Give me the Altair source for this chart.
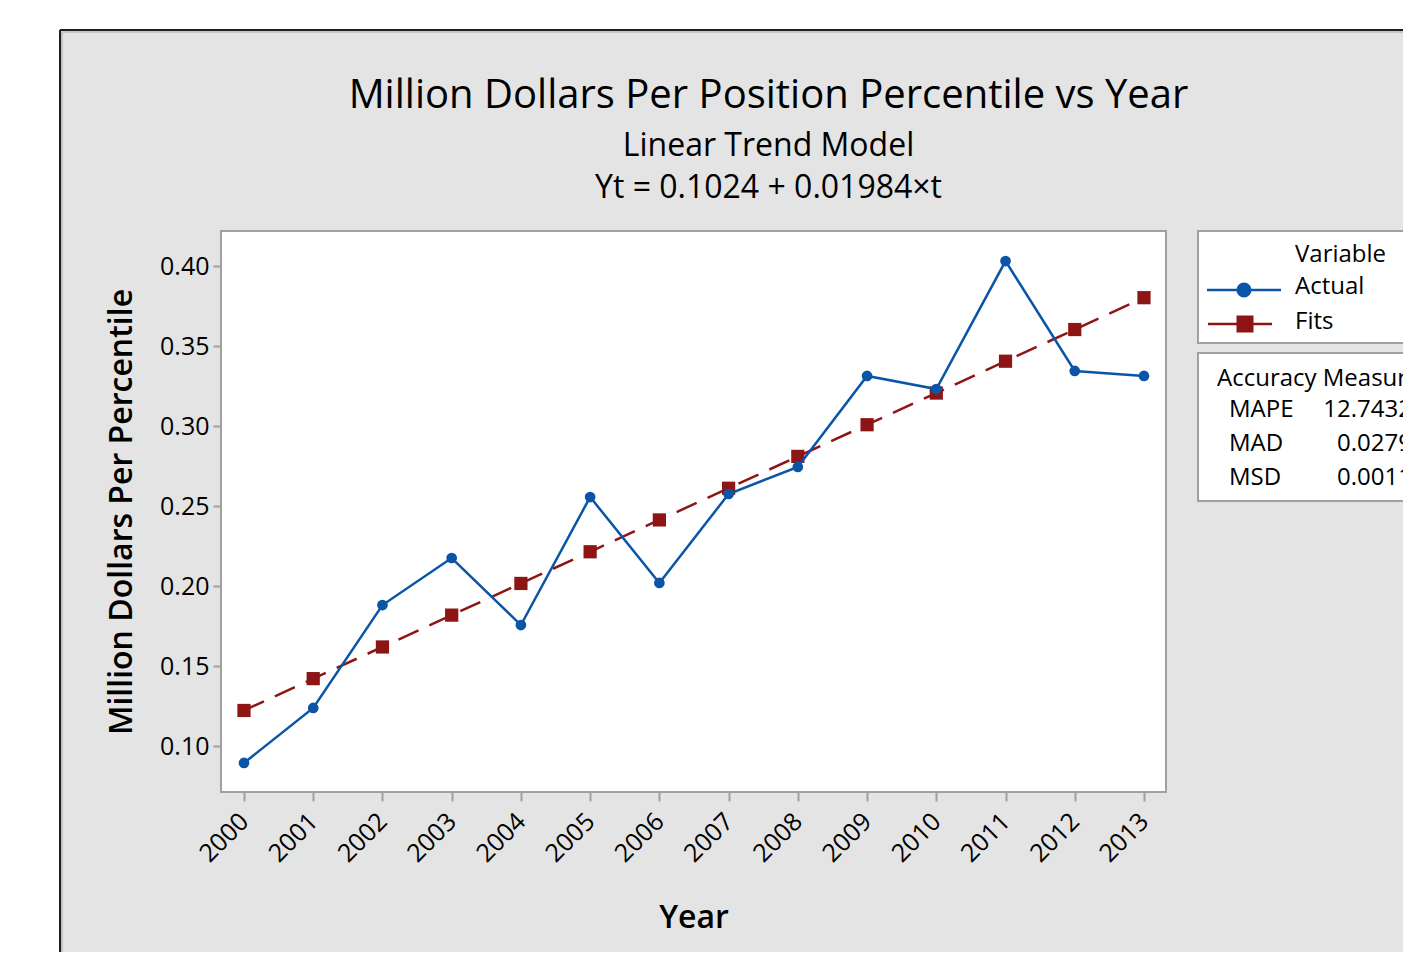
import altair as alt
import pandas as pd

# ---------------- data ----------------
years = [2000, 2001, 2002, 2003, 2004, 2005, 2006, 2007, 2008, 2009, 2010, 2011, 2012, 2013]
actual = [0.0894, 0.1238, 0.1881, 0.2175, 0.1756, 0.2556, 0.2019,
          0.2575, 0.2744, 0.3313, 0.3231, 0.4031, 0.3344, 0.3313]
fits = [0.1222, 0.1421, 0.1619, 0.1818, 0.2016, 0.2214, 0.2413,
        0.2611, 0.2810, 0.3008, 0.3206, 0.3405, 0.3603, 0.3802]
series = ["Actual", "Fits"]
measure_names = ["MAPE", "MAD", "MSD"]
measure_values = ["12.7432", "0.0279", "0.0011"]
y_ticks = [0.10, 0.15, 0.20, 0.25, 0.30, 0.35, 0.40]

title_text = "Million Dollars Per Position Percentile vs Year"
subtitle_lines = ["Linear Trend Model", "Yt = 0.1024 + 0.01984×t"]

# ---------------- styling ----------------
FONT = "Open Sans"
BLUE = "#0a55a8"
RED = "#8e1515"
PANEL = "#e4e4e4"
FRAME = "#a0a0a0"
W, H = 945, 561

df_actual = pd.DataFrame({"Year": years, "Value": actual})
df_fits = pd.DataFrame({"Year": years, "Value": fits})
one = pd.DataFrame({"k": [0]})

xscale = alt.Scale(domain=[1999.668, 2013.318], nice=False, zero=False)
yscale = alt.Scale(domain=[0.07125, 0.42188], nice=False, zero=False)

xaxis = alt.Axis(values=years, format="d", title="Year", labelAngle=-45,
                 labelAlign="right", labelBaseline="middle", labelPadding=16,
                 tickSize=9, titlePadding=36)
yaxis = alt.Axis(values=y_ticks, format=".2f", title="Million Dollars Per Percentile",
                 labelPadding=4, tickSize=8, titlePadding=21)

X = alt.X("Year:Q", scale=xscale, axis=xaxis)
Y = alt.Y("Value:Q", scale=yscale, axis=yaxis)

fits_line = alt.Chart(df_fits).mark_line(color=RED, strokeWidth=2.5, strokeDash=[22, 12]).encode(x=X, y=Y)
fits_pts = alt.Chart(df_fits).mark_square(color=RED, size=175, opacity=1).encode(x=X, y=Y)
act_line = alt.Chart(df_actual).mark_line(color=BLUE, strokeWidth=2.5).encode(x=X, y=Y)
act_pts = alt.Chart(df_actual).mark_circle(color=BLUE, size=115, opacity=1).encode(x=X, y=Y)

# ---------------- outer panel (white margin outside the grey panel) ----------------
mask_left = alt.Chart(one).mark_rect(color="white").encode(
    x=alt.value(-230), x2=alt.value(-161), y=alt.value(-230), y2=alt.value(H + 200))
mask_top = alt.Chart(one).mark_rect(color="white").encode(
    x=alt.value(-230), x2=alt.value(W + 500), y=alt.value(-230), y2=alt.value(-201))
edge_left = alt.Chart(one).mark_rule(color="#1e1e1e", strokeWidth=2).encode(
    x=alt.value(-161), y=alt.value(-201), y2=alt.value(H + 200))
edge_top = alt.Chart(one).mark_rule(color="#1e1e1e", strokeWidth=2).encode(
    x=alt.value(-161), x2=alt.value(W + 500), y=alt.value(-201))
inner_left = alt.Chart(one).mark_rule(color="#c4c4c4", strokeWidth=2).encode(
    x=alt.value(-159), y=alt.value(-199), y2=alt.value(H + 200))
inner_top = alt.Chart(one).mark_rule(color="#c4c4c4", strokeWidth=2).encode(
    x=alt.value(-159), x2=alt.value(W + 500), y=alt.value(-199))

# ---------------- legend boxes ----------------
box1 = alt.Chart(one).mark_rect(fill="white", stroke=FRAME, strokeWidth=2).encode(
    x=alt.value(977), x2=alt.value(W + 500), y=alt.value(0), y2=alt.value(112))
box2 = alt.Chart(one).mark_rect(fill="white", stroke=FRAME, strokeWidth=2).encode(
    x=alt.value(977), x2=alt.value(W + 500), y=alt.value(122), y2=alt.value(270))

def txt(s, x, y, align="left"):
    return alt.Chart(one).mark_text(align=align, baseline="middle", font=FONT,
                                    fontSize=24, color="black").encode(
        x=alt.value(x), y=alt.value(y), text=alt.value(s))

leg_items = [
    txt("Variable", 1074, 24),
    txt(series[0], 1074, 56),
    txt(series[1], 1074, 91),
    alt.Chart(one).mark_rule(color=BLUE, strokeWidth=2.5).encode(
        x=alt.value(986), x2=alt.value(1060), y=alt.value(59)),
    alt.Chart(one).mark_circle(color=BLUE, size=227, opacity=1).encode(
        x=alt.value(1023), y=alt.value(59)),
    alt.Chart(one).mark_rule(color=RED, strokeWidth=2.5).encode(
        x=alt.value(987), x2=alt.value(1051), y=alt.value(93)),
    alt.Chart(one).mark_square(color=RED, size=289, opacity=1).encode(
        x=alt.value(1024), y=alt.value(93)),
    txt("Accuracy Measures", 996, 148),
]
ys = [179, 213, 247]
for name, val, yy in zip(measure_names, measure_values, ys):
    leg_items.append(txt(name, 1008, yy))
    leg_items.append(txt(val, 1191, yy, align="right"))

chart = alt.layer(
    mask_left, mask_top, edge_left, edge_top, inner_left, inner_top,
    fits_line, fits_pts, act_line, act_pts,
    box1, box2, *leg_items,
).properties(
    width=W, height=H,
    background=PANEL,
    padding={"left": 213, "top": 223, "right": 237, "bottom": 160},
    autosize=alt.AutoSizeParams(type="none"),
    title=alt.TitleParams(
        text=title_text, subtitle=subtitle_lines,
        font=FONT, fontSize=40, fontWeight="normal", color="black",
        subtitleFont=FONT, subtitleFontSize=32, subtitleColor="black",
        subtitleLineHeight=42, subtitlePadding=15,
        anchor="middle", frame="group", dx=75, offset=-203,
    ),
).configure_view(
    fill="white", stroke=FRAME, strokeWidth=2
).configure_axis(
    labelFont=FONT, labelFontSize=25, labelColor="black",
    titleFont=FONT, titleFontSize=32, titleFontWeight=600, titleColor="black",
    tickColor=FRAME, tickWidth=2, domain=False, grid=False,
)

chart.save("out.html", embed_options={"renderer": "svg", "actions": False})
